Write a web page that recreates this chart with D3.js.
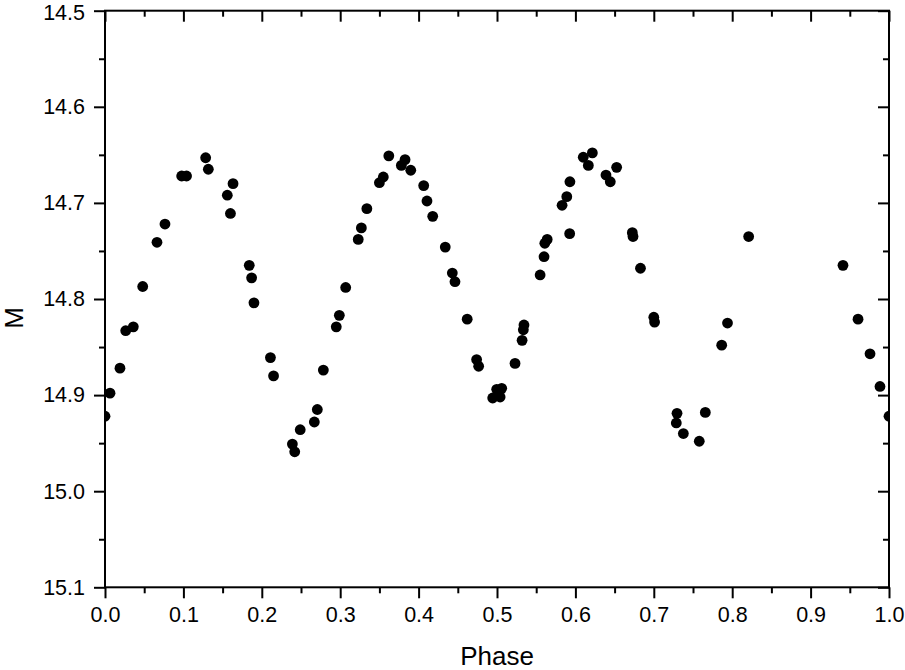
<!DOCTYPE html>
<html>
<head>
<meta charset="utf-8">
<script src="https://cdn.jsdelivr.net/npm/d3@7"></script>
<style>
  body { margin: 0; background: #fff; }
  svg { display: block; font-family: "Liberation Sans", Arial, sans-serif; }
</style>
</head>
<body>
<div id="chart"></div>
<script>
// light curve values
const phase = [0.000, 0.0064, 0.0191, 0.0264, 0.0361, 0.0481, 0.0663, 0.0765, 0.0978, 0.104,
  0.1284, 0.1318, 0.156, 0.160, 0.1633, 0.184, 0.187, 0.190, 0.211, 0.215,
  0.239, 0.242, 0.249, 0.267, 0.2708, 0.2785, 0.295, 0.2989, 0.307, 0.323,
  0.327, 0.334, 0.350, 0.355, 0.362, 0.378, 0.3827, 0.390, 0.4065, 0.4107,
  0.418, 0.434, 0.443, 0.4464, 0.462, 0.474, 0.4766, 0.4945, 0.4996, 0.504,
  0.506, 0.523, 0.532, 0.5336, 0.5344, 0.555, 0.560, 0.561, 0.564, 0.583,
  0.589, 0.593, 0.5927, 0.610, 0.6165, 0.6216, 0.639, 0.6445, 0.6526, 0.6726,
  0.6735, 0.683, 0.700, 0.701, 0.7287, 0.7296, 0.7377, 0.758, 0.7657, 0.7866,
  0.794, 0.821, 0.9413, 0.9605, 0.9758, 0.9885, 1.000];
const mag = [14.922, 14.898, 14.872, 14.833, 14.829, 14.787, 14.741, 14.722, 14.672, 14.672,
  14.653, 14.665, 14.692, 14.711, 14.680, 14.765, 14.778, 14.804, 14.861, 14.880,
  14.951, 14.959, 14.936, 14.928, 14.915, 14.874, 14.829, 14.817, 14.788, 14.738,
  14.726, 14.706, 14.679, 14.673, 14.651, 14.661, 14.655, 14.666, 14.682, 14.698,
  14.714, 14.746, 14.773, 14.782, 14.821, 14.863, 14.870, 14.903, 14.894, 14.902,
  14.893, 14.867, 14.843, 14.832, 14.827, 14.775, 14.756, 14.742, 14.738, 14.7025,
  14.6935, 14.678, 14.732, 14.6525, 14.661, 14.648, 14.671, 14.678, 14.663, 14.731,
  14.735, 14.768, 14.819, 14.824, 14.929, 14.919, 14.940, 14.948, 14.918, 14.848,
  14.825, 14.735, 14.765, 14.821, 14.857, 14.891, 14.922];

const xTicks = [0, 0.1, 0.2, 0.3, 0.4, 0.5, 0.6, 0.7, 0.8, 0.9, 1.0];
const yTicks = [14.5, 14.6, 14.7, 14.8, 14.9, 15.0, 15.1];

const width = 905, height = 670;
const margin = { top: 10.7, right: 16, bottom: 82.7, left: 105 };
const innerW = width - margin.left - margin.right;
const innerH = height - margin.top - margin.bottom;

const svg = d3.select("#chart").append("svg")
  .attr("width", width).attr("height", height);

const x = d3.scaleLinear().domain([0, 1]).range([0, innerW]);
const y = d3.scaleLinear().domain([14.5, 15.1]).range([0, innerH]);

const g = svg.append("g").attr("transform", `translate(${margin.left},${margin.top})`);

// clip so the points at phase 0 and 1 are cut by the frame
g.append("clipPath").attr("id", "plotclip")
  .append("rect").attr("width", innerW).attr("height", innerH);

const xMinor = d3.range(0.05, 1, 0.1);
const yMinor = d3.range(14.55, 15.1, 0.1);

function styleAxis(sel) {
  sel.select(".domain").remove();
  sel.selectAll("line").attr("stroke", "#000").attr("stroke-width", 2);
  sel.selectAll("text").attr("font-size", "21.5px").attr("fill", "#000");
}

// bottom axis
g.append("g").attr("transform", `translate(0,${innerH})`)
  .call(d3.axisBottom(x).tickValues(xTicks).tickFormat(d3.format(".1f")).tickSize(11).tickPadding(8))
  .call(styleAxis);
g.append("g").attr("transform", `translate(0,${innerH})`)
  .call(d3.axisBottom(x).tickValues(xMinor).tickFormat("").tickSize(6))
  .call(styleAxis);

// top axis (ticks inward)
g.append("g")
  .call(d3.axisTop(x).tickValues(xTicks).tickFormat("").tickSize(-11))
  .call(styleAxis);
g.append("g")
  .call(d3.axisTop(x).tickValues(xMinor).tickFormat("").tickSize(-6))
  .call(styleAxis);

// left axis
const yAxisG = g.append("g")
  .call(d3.axisLeft(y).tickValues(yTicks).tickFormat(d3.format(".1f")).tickSize(11).tickPadding(9))
  .call(styleAxis);
// keep the top label inside the page
yAxisG.selectAll(".tick text").filter(d => d === 14.5).attr("dy", "0.42em");
g.append("g")
  .call(d3.axisLeft(y).tickValues(yMinor).tickFormat("").tickSize(6))
  .call(styleAxis);

// right axis (ticks inward)
g.append("g").attr("transform", `translate(${innerW},0)`)
  .call(d3.axisRight(y).tickValues(yTicks).tickFormat("").tickSize(-11))
  .call(styleAxis);
g.append("g").attr("transform", `translate(${innerW},0)`)
  .call(d3.axisRight(y).tickValues(yMinor).tickFormat("").tickSize(-6))
  .call(styleAxis);

// frame
g.append("rect")
  .attr("width", innerW).attr("height", innerH)
  .attr("fill", "none").attr("stroke", "#000").attr("stroke-width", 2);

// points
g.append("g").attr("clip-path", "url(#plotclip)")
  .selectAll("circle")
  .data(phase.map((p, i) => ({ p, m: mag[i] })))
  .join("circle")
  .attr("cx", d => x(d.p))
  .attr("cy", d => y(d.m))
  .attr("r", 5.4)
  .attr("fill", "#000");

// axis titles
svg.append("text")
  .attr("x", margin.left + innerW / 2).attr("y", 665)
  .attr("text-anchor", "middle").attr("font-size", "26px").attr("fill", "#000")
  .text("Phase");

svg.append("text")
  .attr("transform", `translate(23,318) rotate(-90)`)
  .attr("text-anchor", "middle").attr("font-size", "26px").attr("fill", "#000")
  .text("M");
</script>
</body>
</html>
